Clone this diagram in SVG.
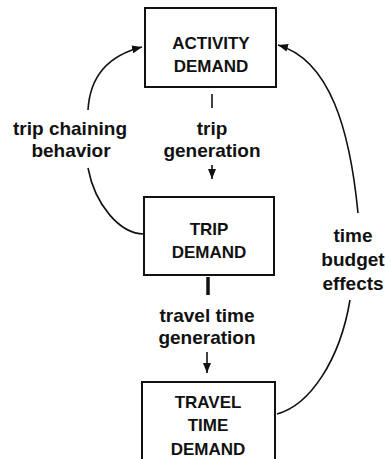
<svg xmlns="http://www.w3.org/2000/svg" width="386" height="459" viewBox="0 0 386 459">
<defs>
<style>
.box{fill:#fff;stroke:#111;stroke-width:2}
.bt{font-family:"Liberation Sans",Arial,sans-serif;font-weight:bold;font-size:17px;fill:#111;text-anchor:middle}
.lb{font-family:"Liberation Sans",Arial,sans-serif;font-weight:bold;font-size:19px;fill:#111;text-anchor:middle}
.ln{fill:none;stroke:#111;stroke-width:1.6}
</style>
<marker id="ah" viewBox="0 0 10 8" refX="10" refY="4" markerWidth="10" markerHeight="8" markerUnits="userSpaceOnUse" orient="auto">
<path d="M0,0 L10,4 L0,8 Z" fill="#111"/>
</marker>
<marker id="ahs" viewBox="0 0 8 10" refX="4" refY="10" markerWidth="8" markerHeight="10" markerUnits="userSpaceOnUse" orient="0">
<path d="M0,0 L4,10 L8,0 Z" fill="#111"/>
</marker>
</defs>
<g id="connectors">
<line class="ln" x1="212" y1="94" x2="212" y2="108"/>
<line class="ln" x1="212" y1="165" x2="212" y2="179" marker-end="url(#ahs)"/>
<line class="ln" x1="208" y1="277" x2="208" y2="295" style="stroke-width:3.5"/>
<line class="ln" x1="207" y1="352" x2="207" y2="373" marker-end="url(#ahs)"/>
<path class="ln" d="M144,234 C120,234 95,205 88,168"/>
<path class="ln" d="M88,110 C90,75 110,55 142,47" marker-end="url(#ah)"/>
<path class="ln" d="M277,414 C310,405 340,360 350,300"/>
<path class="ln" d="M358,213 C350,130 330,60 278,45" marker-end="url(#ah)"/>
<text class="lb" x="212" y="135">trip</text>
<text class="lb" x="212" y="157">generation</text>
<text class="lb" x="70" y="135">trip chaining</text>
<text class="lb" x="71" y="157">behavior</text>
<text class="lb" x="207" y="322">travel time</text>
<text class="lb" x="207" y="344">generation</text>
<text class="lb" x="353" y="242">time</text>
<text class="lb" x="353" y="266">budget</text>
<text class="lb" x="353" y="290">effects</text>
</g>
<g id="activity-demand">
<rect class="box" x="145" y="8" width="131" height="79"/>
<text class="bt" x="211" y="49">ACTIVITY</text>
<text class="bt" x="211" y="72">DEMAND</text>
</g>
<g id="trip-demand">
<rect class="box" x="144" y="197" width="130" height="78"/>
<text class="bt" x="209" y="235">TRIP</text>
<text class="bt" x="209" y="258">DEMAND</text>
</g>
<g id="travel-time-demand">
<rect class="box" x="142" y="382" width="133" height="90"/>
<text class="bt" x="208" y="408">TRAVEL</text>
<text class="bt" x="208" y="431">TIME</text>
<text class="bt" x="208" y="455">DEMAND</text>
</g>
</svg>
